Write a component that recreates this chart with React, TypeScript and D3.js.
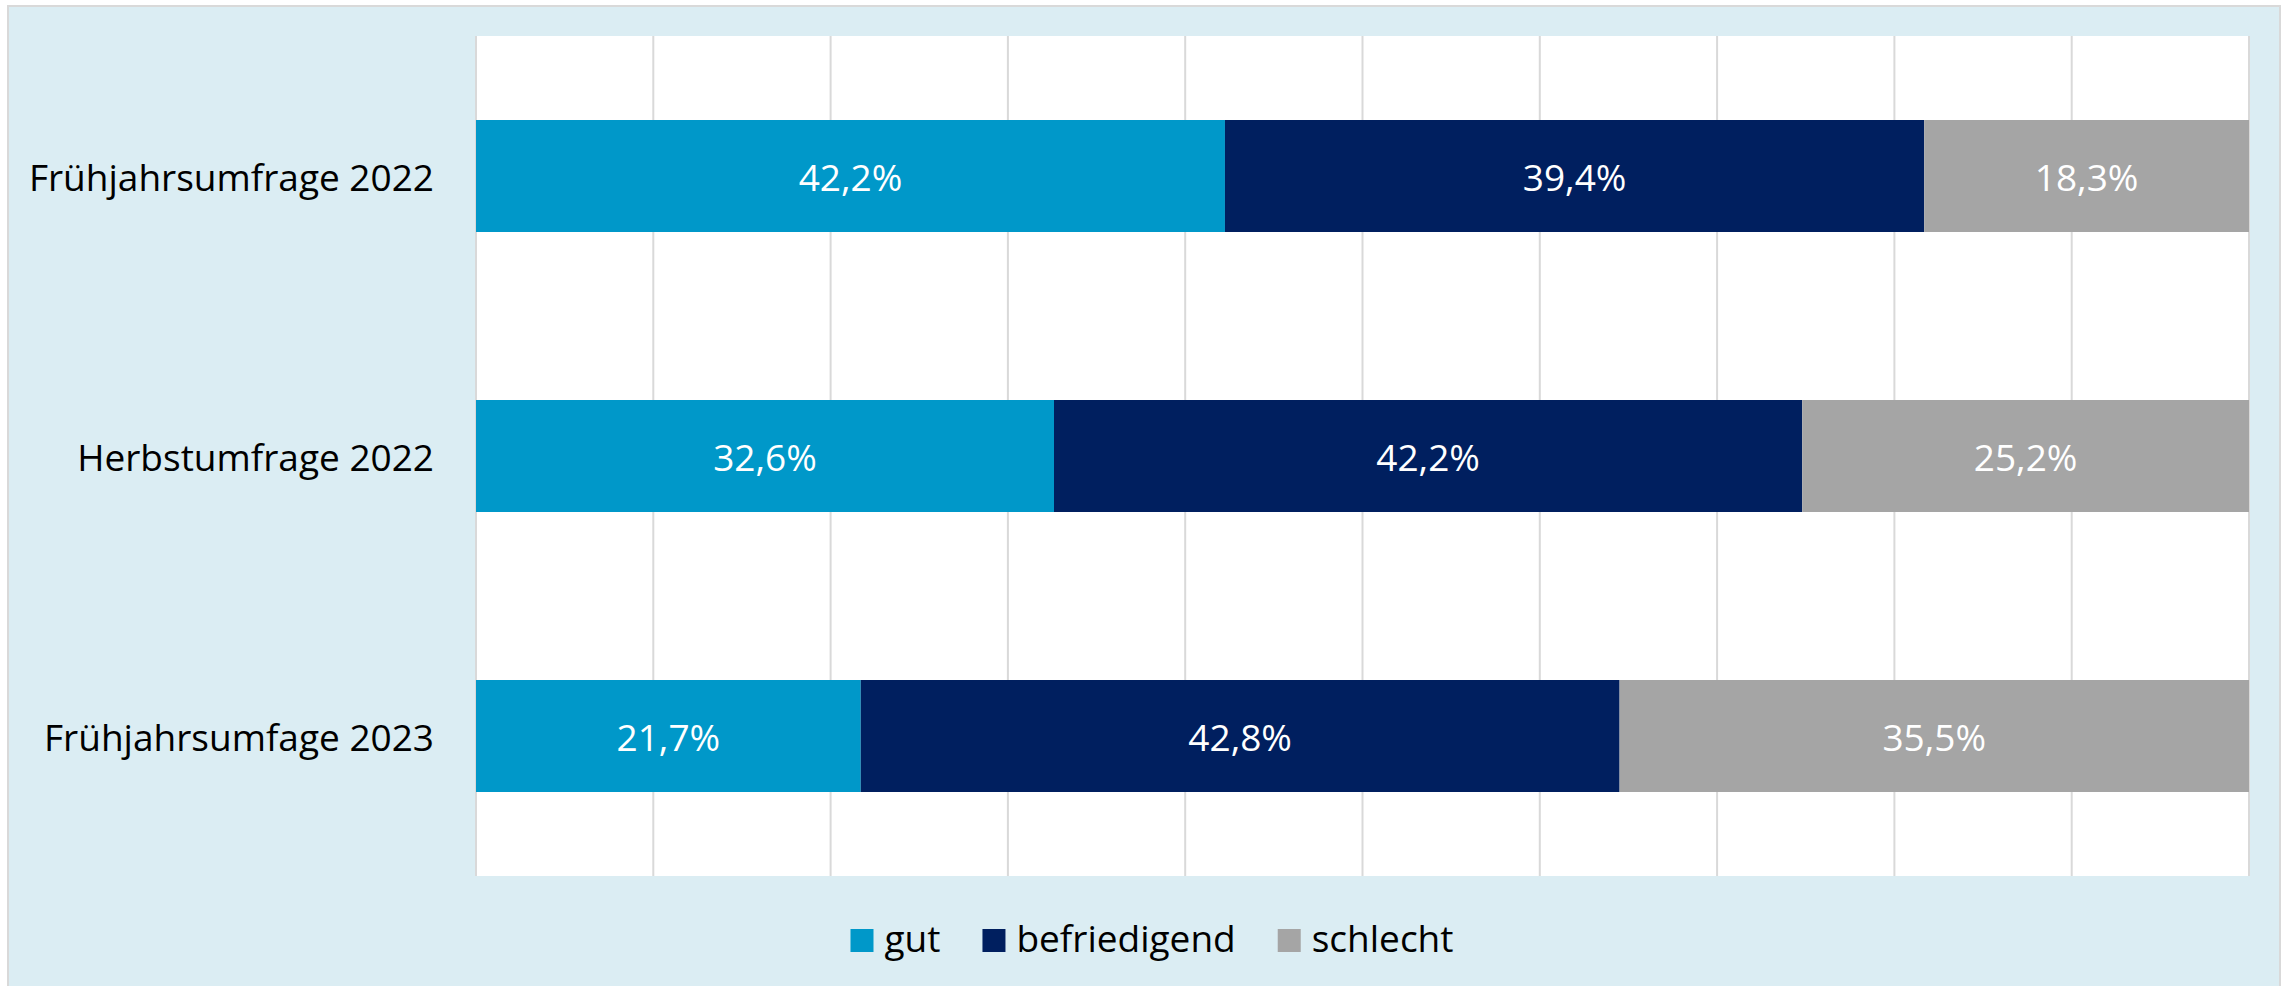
import React from "react";
import * as d3 from "d3";

const categories = ["Frühjahrsumfrage 2022", "Herbstumfrage 2022", "Frühjahrsumfage 2023"];
const seriesNames = ["gut", "befriedigend", "schlecht"];
const gut = [42.2, 32.6, 21.7];
const befriedigend = [39.4, 42.2, 42.8];
const schlecht = [18.3, 25.2, 35.5];
const xTicks = [0, 0.1, 0.2, 0.3, 0.4, 0.5, 0.6, 0.7, 0.8, 0.9, 1];

const colors = ["#0098C9", "#001F5F", "#A5A5A5"];
const FONT = '"Open Sans", sans-serif';
const FS = 37;

const W = 2290;
const H = 986;
const plot = { left: 476, right: 2249, top: 36, bottom: 876 };

function measure(text: string): number {
  const c = document.createElement("canvas");
  const ctx = c.getContext("2d");
  if (!ctx) return text.length * FS * 0.5;
  ctx.font = `${FS}px "Open Sans"`;
  return ctx.measureText(text).width;
}

export default function App() {
  const rows = categories.map((c, i) => ({
    cat: c,
    gut: gut[i],
    befriedigend: befriedigend[i],
    schlecht: schlecht[i],
  }));
  const stack = d3.stack<any>().keys(seriesNames).offset(d3.stackOffsetExpand)(rows);
  const raw = [gut, befriedigend, schlecht];

  const x = d3.scaleLinear().domain([0, 1]).range([plot.left, plot.right]);
  const y = d3
    .scaleBand<string>()
    .domain(categories)
    .range([plot.top, plot.bottom])
    .paddingInner(0.6)
    .paddingOuter(0.3);

  const fmt = (v: number) => v.toFixed(1).replace(".", ",") + "%";

  // legend layout
  const sq = 23;
  const gapSqText = 11;
  const gapEntries = 42;
  const widths = seriesNames.map((s) => measure(s));
  const entryW = widths.map((w) => sq + gapSqText + w);
  const totalW = entryW.reduce((a, b) => a + b, 0) + gapEntries * (seriesNames.length - 1);
  const legendCenter = 1152;
  let cursor = legendCenter - totalW / 2;
  const legendItems = seriesNames.map((s, i) => {
    const item = { name: s, x: cursor, color: colors[i] };
    cursor += entryW[i] + gapEntries;
    return item;
  });
  const legendBaseline = 952;

  return (
    <svg
      width={W}
      height={H}
      style={{ position: "absolute", left: 0, top: 0, display: "block" }}
      fontFamily={FONT}
    >
      <rect x={0} y={0} width={W} height={H} fill="#ffffff" />
      <rect x={8} y={6} width={2272} height={986} fill="#DBEDF3" stroke="#D9D9D9" strokeWidth={2} />
      <rect
        x={plot.left}
        y={plot.top}
        width={plot.right - plot.left}
        height={plot.bottom - plot.top}
        fill="#ffffff"
      />
      {xTicks.map((t) => (
        <line
          key={t}
          x1={x(t)}
          x2={x(t)}
          y1={plot.top}
          y2={plot.bottom}
          stroke="#D9D9D9"
          strokeWidth={2}
        />
      ))}
      {stack.map((s, si) => (
        <g key={s.key}>
          {s.map((d, i) => {
            const x0 = x(d[0]);
            const x1 = x(d[1]);
            const yy = y(categories[i]) as number;
            const bw = y.bandwidth();
            return (
              <g key={i}>
                <rect x={x0} y={yy} width={x1 - x0} height={bw} fill={colors[si]} />
                <text
                  x={(x0 + x1) / 2}
                  y={yy + bw / 2 + 15}
                  textAnchor="middle"
                  fill="#ffffff"
                  fontSize={FS}
                >
                  {fmt(raw[si][i])}
                </text>
              </g>
            );
          })}
        </g>
      ))}
      {categories.map((c) => (
        <text
          key={c}
          x={434}
          y={(y(c) as number) + y.bandwidth() / 2 + 15}
          textAnchor="end"
          fill="#000000"
          fontSize={FS}
        >
          {c}
        </text>
      ))}
      {legendItems.map((it) => (
        <g key={it.name}>
          <rect x={it.x} y={legendBaseline - sq} width={sq} height={sq} fill={it.color} />
          <text x={it.x + sq + gapSqText} y={legendBaseline} fill="#000000" fontSize={FS}>
            {it.name}
          </text>
        </g>
      ))}
    </svg>
  );
}
